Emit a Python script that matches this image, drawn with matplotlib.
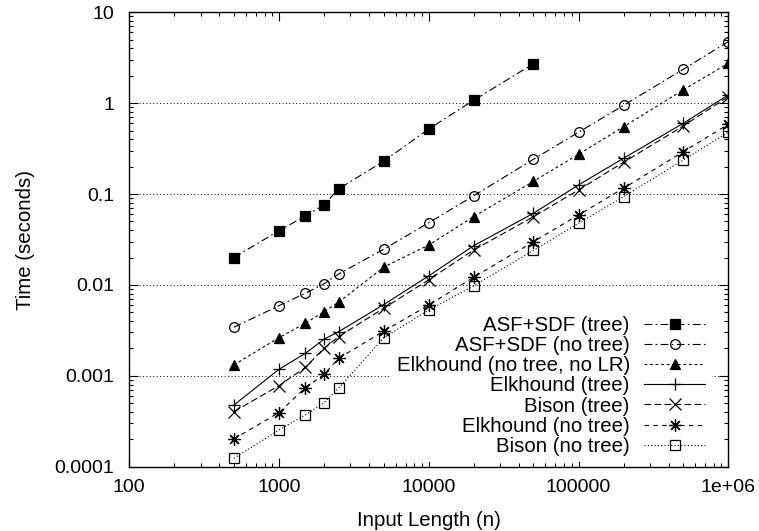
import matplotlib
matplotlib.use("Agg")
import matplotlib.pyplot as plt
from matplotlib.ticker import FixedLocator, FixedFormatter, LogLocator, NullFormatter

plt.rcParams['font.family'] = ['Liberation Sans', 'DejaVu Sans']
plt.rcParams['font.size'] = 14

# ---- data ----
n = [500, 1000, 1500, 2000, 2500, 5000, 10000, 20000, 50000,
     100000, 200000, 500000, 1000000]
asf_tree = [0.020, 0.0396, 0.0574, 0.0764, 0.114, 0.23, 0.52, 1.08, 2.72]
asf_notree = [0.00342, 0.00592, 0.00811, 0.0103, 0.0132, 0.0247, 0.0484,
              0.096, 0.2415, 0.479, 0.948, 2.36, 4.75]
elk_nolr = [0.00132, 0.00263, 0.00379, 0.00508, 0.00645, 0.0157, 0.0275,
            0.0566, 0.138, 0.274, 0.551, 1.40, 2.75]
elk_tree = [0.000478, 0.00118, 0.00177, 0.00253, 0.00306, 0.00608, 0.0126,
            0.0271, 0.0615, 0.126, 0.248, 0.601, 1.23]
bison_tree = [0.000404, 0.00078, 0.00124, 0.00201, 0.0027, 0.00554, 0.0114,
              0.0243, 0.0564, 0.111, 0.224, 0.561, 1.18]
elk_notree = [0.000202, 0.000394, 0.000741, 0.00104, 0.00156, 0.0031, 0.0060,
              0.0122, 0.0299, 0.0589, 0.116, 0.292, 0.586]
bison_notree = [0.000124, 0.000254, 0.000372, 0.000507, 0.000731, 0.00262,
                0.0053, 0.0098, 0.024, 0.0477, 0.0937, 0.237, 0.479]

labels = ["ASF+SDF (tree)", "ASF+SDF (no tree)", "Elkhound (no tree, no LR)",
          "Elkhound (tree)", "Bison (tree)", "Elkhound (no tree)", "Bison (no tree)"]

x_ticks = [100, 1000, 10000, 100000, 1000000]
x_ticklabels = ["100", "1000", "10000", "100000", "1e+06"]
y_ticks = [0.0001, 0.001, 0.01, 0.1, 1, 10]
y_ticklabels = ["0.0001", "0.001", "0.01", "0.1", "1", "10"]

# ---- figure ----
fig = plt.figure(figsize=(7.59, 5.31), dpi=100)
ax = fig.add_axes([129.3 / 759, 1 - 466.7 / 531, (728.3 - 129.3) / 759, (466.7 - 12.3) / 531])

lw = 0.8
series = [
    (n[:len(asf_tree)], asf_tree, dict(ls=(0, (7, 3, 1.5, 3)), marker='s', mfc='black', ms=7)),
    (n, asf_notree, dict(ls=(0, (7, 3, 1.5, 3)), marker='o', mfc='none', ms=7)),
    (n, elk_nolr, dict(ls=(0, (2.5, 2.5)), marker='^', mfc='black', ms=7)),
    (n, elk_tree, dict(ls='-', marker='+', mfc='none', ms=9)),
    (n, bison_tree, dict(ls=(0, (6, 3)), marker='x', mfc='none', ms=8)),
    (n, elk_notree, dict(ls=(0, (4, 4)), marker=(8, 2, 0), mfc='none', ms=9)),
    (n, bison_notree, dict(ls=(0, (1, 2)), marker='s', mfc='none', ms=7)),
]
for (xs, ys, st), lab in zip(series, labels):
    ax.plot(xs, ys, color='black', lw=lw, mec='black', mew=0.9, label=lab,
            zorder=3, **st)

ax.set_xscale('log')
ax.set_yscale('log')
ax.set_xlim(100, 1e6)
ax.set_ylim(1e-4, 10)

ax.xaxis.set_major_locator(FixedLocator(x_ticks))
ax.xaxis.set_major_formatter(FixedFormatter(x_ticklabels))
ax.yaxis.set_major_locator(FixedLocator(y_ticks))
ax.yaxis.set_major_formatter(FixedFormatter(y_ticklabels))
ax.xaxis.set_minor_locator(LogLocator(base=10, subs=range(2, 10), numticks=20))
ax.yaxis.set_minor_locator(LogLocator(base=10, subs=range(2, 10), numticks=20))
ax.xaxis.set_minor_formatter(NullFormatter())
ax.yaxis.set_minor_formatter(NullFormatter())

ax.tick_params(which='both', direction='in', top=True, right=True, width=0.8)
ax.tick_params(which='major', length=6.5)
ax.tick_params(which='minor', length=3)
ax.tick_params(axis='y', which='major', pad=11)
ax.tick_params(axis='x', which='major', pad=9)

for sp in ax.spines.values():
    sp.set_linewidth(1.0)
    sp.set_zorder(4)

ax.yaxis.grid(True, which='major', linestyle=(0, (1, 2.5)), color='black', lw=0.7)
ax.set_axisbelow(False)  # axis/grid at zorder 2.5

ax.set_xlabel("Input Length (n)", labelpad=11, fontsize=14.7)
ax.set_ylabel("Time (seconds)", labelpad=14, fontsize=14.7)

leg = ax.legend(loc='lower right', bbox_to_anchor=(0.972, 0.010), markerfirst=False,
                frameon=True, fancybox=False, edgecolor='none', facecolor='white',
                framealpha=1.0, handlelength=3.0, handletextpad=0.7,
                labelspacing=0.06, borderpad=0.3, borderaxespad=0.0,
                fontsize=14.7)
leg.set_zorder(2.7)
for t in leg.get_texts():
    t.set_ha('right')
leg._legend_box.align = 'right'

fig.savefig("out.png", dpi=100)
